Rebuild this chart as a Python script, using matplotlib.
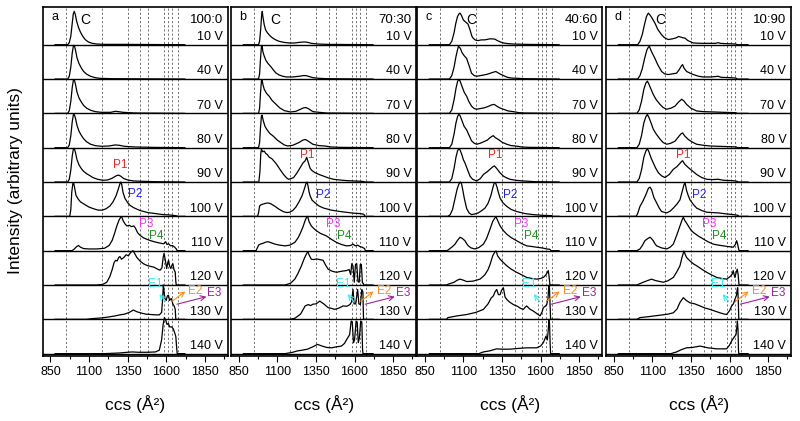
import matplotlib
matplotlib.use("Agg")
import matplotlib.pyplot as plt
from matplotlib.ticker import FixedLocator
import numpy as np

plt.rcParams['font.family'] = ['Liberation Sans', 'DejaVu Sans']

voltages = [10, 40, 70, 80, 90, 100, 110, 120, 130, 140]
ratios = ['100:0', '70:30', '40:60', '10:90']
letters = ['a', 'b', 'c', 'd']
peak_lines = [948, 1185, 1353, 1433, 1481, 1584, 1612, 1638, 1673]

# arrival-time spectra, (ccs, relative intensity)
panel_a = {
    10: [(880,0),(962,0),(972,0.06),(982,0.25),(991,0.62),(998,0.9),(1004,0.97),(1010,0.9),(1020,0.68),(1032,0.5),(1045,0.36),(1060,0.24),(1075,0.15),(1095,0.08),(1120,0.04),(1150,0.02),(1200,0.01),(1300,0.01),(1720,0)],
    40: [(880,0),(962,0),(972,0.08),(982,0.35),(991,0.75),(999,0.98),(1005,0.97),(1012,0.85),(1022,0.62),(1035,0.45),(1050,0.32),(1065,0.22),(1085,0.14),(1110,0.08),(1140,0.04),(1170,0.02),(1250,0.01),(1720,0)],
    70: [(880,0),(962,0),(972,0.08),(982,0.35),(991,0.75),(999,0.98),(1005,0.97),(1012,0.85),(1022,0.62),(1035,0.45),(1050,0.33),(1065,0.23),(1085,0.15),(1110,0.09),(1140,0.05),(1180,0.03),(1240,0.03),(1270,0.06),(1290,0.05),(1320,0.03),(1400,0.01),(1720,0)],
    80: [(880,0),(962,0),(972,0.08),(982,0.35),(991,0.75),(999,0.97),(1005,0.96),(1012,0.86),(1022,0.65),(1035,0.48),(1050,0.36),(1065,0.26),(1085,0.17),(1110,0.1),(1140,0.06),(1180,0.04),(1230,0.05),(1270,0.08),(1295,0.07),(1330,0.04),(1400,0.02),(1500,0.01),(1720,0)],
    90: [(880,0),(962,0),(972,0.08),(982,0.35),(991,0.75),(999,0.98),(1005,0.97),(1012,0.86),(1022,0.65),(1035,0.5),(1050,0.39),(1065,0.31),(1085,0.24),(1100,0.2),(1125,0.13),(1155,0.08),(1190,0.05),(1220,0.06),(1245,0.1),(1265,0.15),(1280,0.19),(1292,0.2),(1305,0.17),(1325,0.1),(1350,0.06),(1390,0.03),(1450,0.02),(1520,0.01),(1720,0)],
    100: [(880,0),(975,0),(982,0.2),(988,0.7),(995,0.95),(1000,0.98),(1006,0.85),(1015,0.62),(1030,0.5),(1045,0.42),(1060,0.38),(1080,0.32),(1100,0.27),(1130,0.22),(1160,0.18),(1185,0.18),(1210,0.22),(1235,0.3),(1255,0.42),(1275,0.6),(1290,0.8),(1300,0.95),(1306,1.0),(1312,0.92),(1320,0.7),(1333,0.52),(1350,0.4),(1365,0.32),(1390,0.25),(1430,0.17),(1480,0.11),(1530,0.08),(1580,0.05),(1620,0.04),(1660,0.02),(1680,0),(1720,0)],
    110: [(880,0),(990,0),(1005,0.05),(1020,0.12),(1032,0.15),(1045,0.1),(1065,0.06),(1100,0.05),(1150,0.05),(1200,0.07),(1230,0.15),(1250,0.3),(1265,0.5),(1280,0.72),(1295,0.9),(1305,0.97),(1312,0.98),(1320,0.88),(1333,0.78),(1345,0.72),(1360,0.74),(1375,0.7),(1390,0.72),(1400,0.66),(1415,0.52),(1430,0.45),(1450,0.38),(1475,0.33),(1500,0.29),(1530,0.25),(1560,0.22),(1583,0.2),(1596,0.26),(1605,0.18),(1615,0.2),(1628,0.14),(1640,0.15),(1655,0.1),(1665,0.05),(1670,0),(1720,0)],
    120: [(880,0),(1150,0),(1190,0.02),(1215,0.08),(1235,0.25),(1250,0.45),(1262,0.65),(1272,0.72),(1282,0.7),(1292,0.8),(1300,0.83),(1310,0.75),(1325,0.8),(1340,0.88),(1355,0.85),(1370,0.95),(1385,1.0),(1395,0.92),(1410,0.8),(1430,0.7),(1452,0.62),(1475,0.57),(1500,0.54),(1520,0.52),(1540,0.47),(1560,0.43),(1572,0.5),(1580,0.8),(1586,0.92),(1593,0.75),(1603,0.48),(1610,0.65),(1615,0.72),(1622,0.55),(1630,0.48),(1637,0.58),(1643,0.62),(1650,0.45),(1658,0.38),(1662,0.1),(1665,0),(1720,0)],
    130: [(880,0),(1080,0),(1120,0.02),(1180,0.04),(1230,0.07),(1270,0.1),(1300,0.13),(1330,0.15),(1360,0.2),(1387,0.27),(1410,0.22),(1440,0.18),(1470,0.15),(1500,0.14),(1530,0.13),(1555,0.13),(1570,0.2),(1577,0.6),(1581,1.0),(1586,0.8),(1592,0.6),(1600,0.55),(1607,0.68),(1614,0.7),(1622,0.55),(1630,0.6),(1635,0.6),(1642,0.45),(1650,0.4),(1658,0.3),(1662,0),(1720,0)],
    140: [(880,0),(1200,0),(1300,0.02),(1350,0.04),(1380,0.05),(1420,0.04),(1480,0.04),(1530,0.05),(1555,0.1),(1570,0.4),(1580,0.85),(1588,1.05),(1595,1.0),(1605,0.85),(1614,0.88),(1622,0.78),(1635,0.78),(1646,0.72),(1655,0.6),(1662,0.5),(1667,0.2),(1671,0),(1720,0)],
}

panel_b = {
    10: [(880,0),(978,0),(985,0.1),(992,0.45),(998,0.85),(1002,0.97),(1007,0.8),(1015,0.58),(1024,0.43),(1035,0.35),(1050,0.27),(1065,0.21),(1085,0.15),(1110,0.1),(1140,0.07),(1175,0.05),(1210,0.05),(1245,0.07),(1275,0.08),(1295,0.07),(1320,0.04),(1360,0.02),(1420,0.01),(1720,0)],
    40: [(880,0),(978,0),(985,0.15),(991,0.6),(997,0.95),(1001,0.98),(1006,0.8),(1014,0.68),(1025,0.55),(1040,0.45),(1058,0.36),(1075,0.26),(1090,0.18),(1110,0.12),(1135,0.08),(1160,0.06),(1200,0.06),(1240,0.08),(1270,0.1),(1285,0.1),(1300,0.08),(1330,0.04),(1370,0.02),(1420,0.01),(1720,0)],
    70: [(880,0),(978,0),(985,0.15),(991,0.6),(997,0.95),(1001,0.98),(1006,0.85),(1015,0.7),(1030,0.58),(1047,0.5),(1065,0.38),(1090,0.27),(1115,0.16),(1145,0.08),(1185,0.04),(1220,0.06),(1250,0.12),(1270,0.16),(1285,0.17),(1300,0.14),(1330,0.05),(1370,0.03),(1420,0.01),(1720,0)],
    80: [(880,0),(978,0),(985,0.15),(991,0.6),(997,0.93),(1001,0.95),(1008,0.8),(1020,0.62),(1032,0.53),(1050,0.42),(1075,0.33),(1100,0.22),(1125,0.14),(1145,0.08),(1167,0.05),(1200,0.07),(1240,0.15),(1265,0.22),(1282,0.24),(1300,0.19),(1330,0.1),(1370,0.06),(1405,0.05),(1450,0.02),(1500,0.01),(1720,0)],
    90: [(880,0),(980,0),(987,0.3),(993,0.85),(997,0.95),(1005,0.88),(1015,0.9),(1025,0.83),(1035,0.8),(1048,0.72),(1064,0.68),(1080,0.6),(1096,0.51),(1115,0.38),(1140,0.22),(1160,0.12),(1172,0.08),(1190,0.1),(1205,0.13),(1225,0.25),(1248,0.42),(1265,0.55),(1280,0.62),(1290,0.72),(1298,0.6),(1305,0.5),(1312,0.4),(1325,0.33),(1345,0.27),(1370,0.22),(1400,0.17),(1430,0.12),(1463,0.08),(1500,0.06),(1550,0.04),(1600,0.03),(1650,0.02),(1670,0),(1720,0)],
    100: [(880,0),(972,0),(978,0.1),(985,0.3),(995,0.34),(1010,0.36),(1025,0.38),(1041,0.39),(1060,0.36),(1085,0.29),(1110,0.21),(1137,0.14),(1160,0.11),(1180,0.12),(1200,0.17),(1220,0.27),(1240,0.42),(1260,0.6),(1275,0.8),(1285,0.95),(1292,1.0),(1298,0.9),(1305,0.72),(1312,0.6),(1325,0.47),(1345,0.39),(1370,0.3),(1400,0.24),(1450,0.18),(1507,0.14),(1560,0.11),(1600,0.09),(1637,0.08),(1660,0.06),(1668,0),(1720,0)],
    110: [(880,0),(962,0),(970,0.08),(980,0.17),(995,0.2),(1010,0.22),(1025,0.25),(1041,0.26),(1060,0.23),(1085,0.19),(1115,0.16),(1150,0.14),(1180,0.16),(1213,0.24),(1235,0.38),(1250,0.52),(1265,0.68),(1280,0.88),(1290,0.98),(1296,1.0),(1305,0.85),(1320,0.72),(1335,0.65),(1353,0.58),(1380,0.5),(1418,0.43),(1450,0.33),(1483,0.24),(1515,0.18),(1547,0.14),(1575,0.15),(1590,0.19),(1605,0.14),(1620,0.16),(1635,0.12),(1650,0.1),(1665,0.06),(1670,0),(1720,0)],
    120: [(880,0),(1150,0),(1185,0.05),(1213,0.17),(1235,0.35),(1256,0.56),(1275,0.78),(1290,0.92),(1298,0.97),(1305,0.88),(1320,0.75),(1335,0.74),(1353,0.76),(1375,0.74),(1396,0.72),(1410,0.6),(1429,0.46),(1455,0.4),(1483,0.37),(1515,0.4),(1547,0.42),(1565,0.45),(1575,0.3),(1582,0.62),(1590,0.55),(1598,0.08),(1606,0.6),(1614,0.62),(1622,0.1),(1630,0.08),(1637,0.6),(1644,0.6),(1651,0.06),(1656,0.05),(1660,0),(1720,0)],
    130: [(880,0),(1180,0),(1213,0.03),(1250,0.15),(1280,0.39),(1300,0.43),(1315,0.4),(1330,0.44),(1350,0.45),(1375,0.53),(1400,0.45),(1429,0.34),(1450,0.32),(1472,0.29),(1500,0.33),(1526,0.39),(1550,0.38),(1570,0.43),(1580,0.5),(1590,0.87),(1597,0.45),(1607,0.45),(1620,0.87),(1628,0.45),(1638,0.43),(1647,0.87),(1654,0.8),(1658,0),(1720,0)],
    140: [(880,0),(1150,0),(1200,0.04),(1230,0.08),(1260,0.1),(1295,0.13),(1330,0.2),(1360,0.27),(1390,0.22),(1420,0.18),(1450,0.17),(1485,0.2),(1515,0.22),(1535,0.3),(1550,0.42),(1568,0.55),(1578,0.95),(1585,0.92),(1593,0.32),(1600,0.4),(1610,0.95),(1617,0.92),(1624,0.32),(1631,0.45),(1640,0.95),(1647,0.92),(1652,0.1),(1655,0),(1720,0)],
}

panel_c = {
    10: [(880,0),(1010,0),(1025,0.1),(1040,0.35),(1050,0.6),(1062,0.82),(1072,0.9),(1078,0.92),(1088,0.85),(1100,0.72),(1115,0.66),(1130,0.6),(1142,0.45),(1155,0.25),(1165,0.18),(1180,0.13),(1197,0.12),(1215,0.14),(1235,0.14),(1251,0.15),(1270,0.17),(1290,0.17),(1305,0.16),(1320,0.12),(1340,0.08),(1360,0.05),(1390,0.03),(1425,0.02),(1500,0.01),(1720,0)],
    40: [(880,0),(1010,0),(1025,0.1),(1040,0.35),(1052,0.65),(1062,0.85),(1068,0.95),(1074,0.93),(1082,0.88),(1090,0.78),(1105,0.68),(1121,0.6),(1135,0.42),(1153,0.17),(1170,0.1),(1186,0.08),(1210,0.1),(1235,0.12),(1255,0.14),(1275,0.17),(1295,0.2),(1310,0.22),(1325,0.18),(1345,0.13),(1365,0.09),(1385,0.05),(1410,0.03),(1450,0.02),(1500,0.01),(1720,0)],
    70: [(880,0),(1010,0),(1025,0.1),(1040,0.4),(1052,0.72),(1062,0.92),(1070,0.99),(1078,0.95),(1090,0.8),(1105,0.62),(1121,0.5),(1135,0.35),(1153,0.21),(1170,0.14),(1186,0.12),(1210,0.14),(1235,0.16),(1260,0.2),(1285,0.25),(1300,0.26),(1320,0.2),(1340,0.15),(1359,0.12),(1390,0.07),(1424,0.05),(1460,0.02),(1500,0.01),(1720,0)],
    80: [(880,0),(1010,0),(1025,0.1),(1040,0.4),(1052,0.72),(1062,0.9),(1070,0.97),(1078,0.94),(1090,0.8),(1105,0.62),(1121,0.52),(1135,0.38),(1153,0.2),(1170,0.13),(1186,0.1),(1210,0.13),(1235,0.18),(1255,0.22),(1270,0.28),(1285,0.33),(1294,0.35),(1305,0.3),(1315,0.27),(1330,0.23),(1350,0.16),(1381,0.1),(1410,0.06),(1435,0.05),(1480,0.02),(1520,0.01),(1720,0)],
    90: [(880,0),(1010,0),(1025,0.1),(1040,0.4),(1052,0.72),(1062,0.9),(1070,0.97),(1078,0.94),(1090,0.8),(1100,0.65),(1110,0.56),(1125,0.38),(1143,0.17),(1160,0.08),(1186,0.03),(1210,0.1),(1230,0.22),(1255,0.3),(1275,0.38),(1290,0.44),(1301,0.47),(1315,0.4),(1337,0.27),(1360,0.17),(1380,0.12),(1402,0.08),(1440,0.05),(1489,0.03),(1530,0.02),(1560,0.01),(1720,0)],
    100: [(880,0),(1000,0),(1015,0.05),(1030,0.2),(1045,0.5),(1060,0.8),(1072,0.95),(1080,1.0),(1088,0.95),(1095,0.8),(1105,0.55),(1115,0.35),(1122,0.22),(1137,0.1),(1153,0.05),(1175,0.07),(1197,0.1),(1220,0.17),(1240,0.24),(1260,0.38),(1278,0.6),(1292,0.85),(1300,0.97),(1308,0.98),(1318,0.85),(1328,0.68),(1338,0.53),(1355,0.4),(1381,0.29),(1410,0.2),(1445,0.14),(1500,0.08),(1553,0.05),(1610,0.03),(1672,0.02),(1680,0),(1720,0)],
    110: [(880,0),(995,0),(1010,0.05),(1030,0.12),(1046,0.19),(1062,0.3),(1078,0.39),(1092,0.36),(1110,0.29),(1122,0.2),(1132,0.14),(1150,0.08),(1175,0.05),(1200,0.09),(1230,0.19),(1250,0.35),(1273,0.63),(1290,0.85),(1305,0.96),(1312,0.98),(1322,0.88),(1338,0.72),(1360,0.58),(1381,0.48),(1410,0.38),(1445,0.29),(1480,0.2),(1510,0.14),(1545,0.12),(1575,0.1),(1610,0.08),(1640,0.05),(1660,0.04),(1668,0),(1720,0)],
    120: [(880,0),(990,0),(1000,0.02),(1040,0.08),(1060,0.14),(1078,0.17),(1100,0.14),(1122,0.1),(1160,0.11),(1208,0.17),(1240,0.3),(1260,0.45),(1273,0.6),(1290,0.85),(1305,0.97),(1312,0.99),(1322,0.85),(1338,0.75),(1360,0.65),(1381,0.56),(1410,0.46),(1445,0.37),(1480,0.29),(1510,0.22),(1545,0.19),(1575,0.17),(1600,0.19),(1618,0.22),(1632,0.28),(1642,0.35),(1650,0.42),(1655,0.25),(1660,0.03),(1663,0),(1720,0)],
    130: [(880,0),(990,0),(1000,0.05),(1060,0.1),(1122,0.14),(1180,0.2),(1230,0.29),(1260,0.45),(1280,0.62),(1294,0.68),(1305,0.8),(1316,0.87),(1327,0.72),(1338,0.72),(1348,0.85),(1359,0.92),(1370,0.65),(1381,0.58),(1400,0.5),(1424,0.43),(1450,0.38),(1470,0.32),(1489,0.29),(1500,0.35),(1510,0.39),(1530,0.3),(1553,0.24),(1575,0.17),(1597,0.1),(1610,0.22),(1618,0.34),(1630,0.38),(1640,0.43),(1648,0.6),(1653,0.95),(1657,1.0),(1661,0.5),(1665,0),(1720,0)],
    140: [(880,0),(1200,0),(1230,0.05),(1270,0.08),(1300,0.12),(1316,0.14),(1350,0.13),(1402,0.13),(1450,0.15),(1510,0.17),(1575,0.17),(1600,0.22),(1618,0.32),(1630,0.45),(1635,0.51),(1644,0.4),(1650,0.7),(1655,1.0),(1658,0.9),(1662,0.3),(1665,0),(1720,0)],
}

panel_d = {
    10: [(880,0),(1005,0),(1020,0.1),(1035,0.3),(1050,0.6),(1062,0.82),(1074,0.92),(1082,0.88),(1095,0.8),(1105,0.72),(1117,0.63),(1135,0.45),(1160,0.29),(1180,0.2),(1203,0.15),(1230,0.17),(1255,0.2),(1270,0.24),(1285,0.22),(1300,0.2),(1312,0.19),(1330,0.12),(1366,0.05),(1420,0.04),(1480,0.04),(1510,0.04),(1527,0.06),(1540,0.04),(1580,0.03),(1640,0.02),(1650,0),(1720,0)],
    40: [(880,0),(1005,0),(1020,0.1),(1035,0.3),(1050,0.6),(1065,0.85),(1075,0.93),(1081,0.95),(1090,0.85),(1100,0.75),(1117,0.6),(1135,0.42),(1160,0.22),(1180,0.15),(1203,0.13),(1230,0.15),(1257,0.17),(1275,0.28),(1288,0.38),(1296,0.42),(1305,0.32),(1322,0.22),(1345,0.17),(1366,0.13),(1400,0.08),(1430,0.06),(1480,0.06),(1527,0.08),(1545,0.05),(1600,0.04),(1640,0.03),(1650,0),(1720,0)],
    70: [(880,0),(1000,0),(1015,0.1),(1030,0.35),(1045,0.7),(1058,0.88),(1068,0.94),(1078,0.85),(1092,0.7),(1106,0.55),(1125,0.4),(1150,0.26),(1170,0.17),(1193,0.12),(1220,0.15),(1247,0.21),(1270,0.33),(1290,0.41),(1305,0.36),(1322,0.26),(1350,0.15),(1387,0.07),(1430,0.05),(1500,0.04),(1560,0.03),(1640,0.02),(1650,0),(1720,0)],
    80: [(880,0),(1000,0),(1015,0.1),(1030,0.35),(1045,0.72),(1058,0.9),(1068,0.97),(1078,0.88),(1092,0.72),(1106,0.54),(1125,0.4),(1150,0.25),(1170,0.15),(1193,0.1),(1220,0.13),(1247,0.19),(1270,0.32),(1285,0.4),(1296,0.43),(1310,0.34),(1333,0.24),(1360,0.16),(1387,0.1),(1430,0.07),(1473,0.05),(1530,0.04),(1600,0.03),(1645,0.02),(1650,0),(1720,0)],
    90: [(880,0),(1000,0),(1015,0.1),(1030,0.35),(1045,0.72),(1058,0.9),(1068,0.97),(1078,0.88),(1092,0.7),(1106,0.56),(1120,0.42),(1139,0.27),(1160,0.18),(1182,0.13),(1210,0.22),(1236,0.37),(1260,0.45),(1280,0.55),(1290,0.6),(1296,0.62),(1310,0.52),(1333,0.42),(1360,0.32),(1387,0.22),(1420,0.13),(1452,0.08),(1490,0.07),(1527,0.08),(1560,0.05),(1620,0.04),(1650,0.02),(1655,0),(1720,0)],
    100: [(880,0),(995,0),(1005,0.08),(1020,0.29),(1040,0.45),(1060,0.65),(1075,0.82),(1085,0.85),(1095,0.78),(1110,0.55),(1128,0.39),(1145,0.24),(1160,0.14),(1193,0.1),(1215,0.15),(1236,0.24),(1260,0.36),(1279,0.48),(1295,0.75),(1305,0.92),(1312,0.98),(1322,0.75),(1333,0.6),(1344,0.48),(1365,0.35),(1387,0.24),(1420,0.17),(1452,0.12),(1490,0.11),(1527,0.1),(1580,0.07),(1624,0.05),(1655,0.03),(1660,0),(1720,0)],
    110: [(880,0),(1000,0),(1020,0.05),(1035,0.15),(1052,0.29),(1070,0.35),(1085,0.39),(1095,0.35),(1106,0.29),(1117,0.2),(1128,0.14),(1160,0.08),(1193,0.05),(1215,0.1),(1236,0.19),(1258,0.45),(1279,0.72),(1293,0.9),(1301,0.97),(1310,0.88),(1322,0.8),(1333,0.72),(1350,0.6),(1366,0.53),(1400,0.42),(1430,0.34),(1460,0.26),(1495,0.19),(1530,0.16),(1560,0.14),(1590,0.12),(1624,0.1),(1638,0.18),(1646,0.29),(1652,0.2),(1660,0.03),(1663,0),(1720,0)],
    120: [(880,0),(1000,0),(1020,0.04),(1041,0.08),(1070,0.13),(1095,0.17),(1120,0.13),(1150,0.1),(1171,0.08),(1200,0.12),(1236,0.22),(1258,0.38),(1279,0.56),(1292,0.8),(1305,0.99),(1312,0.9),(1322,0.8),(1344,0.7),(1365,0.62),(1387,0.56),(1420,0.46),(1452,0.37),(1485,0.29),(1517,0.22),(1550,0.19),(1581,0.17),(1605,0.25),(1618,0.32),(1624,0.42),(1630,0.3),(1635,0.22),(1642,0.35),(1650,0.46),(1656,0.3),(1661,0.02),(1663,0),(1720,0)],
    130: [(880,0),(1000,0),(1020,0.05),(1080,0.08),(1150,0.12),(1200,0.15),(1236,0.19),(1260,0.3),(1280,0.5),(1301,0.63),(1320,0.55),(1344,0.48),(1375,0.45),(1409,0.39),(1440,0.33),(1473,0.29),(1505,0.24),(1538,0.19),(1560,0.16),(1581,0.14),(1600,0.25),(1614,0.39),(1625,0.45),(1635,0.58),(1645,0.7),(1650,0.88),(1653,0.92),(1657,0.5),(1660,0),(1720,0)],
    140: [(880,0),(1220,0),(1257,0.05),(1290,0.12),(1322,0.17),(1360,0.18),(1409,0.22),(1460,0.17),(1517,0.14),(1581,0.14),(1600,0.25),(1614,0.37),(1625,0.45),(1635,0.51),(1642,0.55),(1648,0.8),(1651,0.95),(1655,0.7),(1658,0.1),(1660,0),(1720,0)],
}

panels = [panel_a, panel_b, panel_c, panel_d]

# label positions (ccs, stacked y) per panel
c_x = [1074, 1085, 1149, 1150]
p_pos = [
    [(1300, 5.49), (1402, 4.65), (1469, 3.78), (1538, 3.44)],
    [(1295, 5.78), (1396, 4.62), (1461, 3.78), (1532, 3.44)],
    [(1305, 5.78), (1406, 4.62), (1475, 3.78), (1540, 3.44)],
    [(1301, 5.78), (1405, 4.62), (1470, 3.78), (1535, 3.44)],
]
p_names = ['P1', 'P2', 'P3', 'P4']
p_colors = ['#ff2020', '#2020ff', '#ff30ff', '#1f8f1f']
e_colors = ['#30f0f0', '#ff8c1a', '#a020a0']

fig = plt.figure(figsize=(8, 4.21), dpi=100)
lefts = [0.0534, 0.2888, 0.5213, 0.7575]
width = 0.2316
bottom = 0.1551
height = 0.8276

n = len(voltages)
for k, data in enumerate(panels):
    ax = fig.add_axes([lefts[k], bottom, width, height])
    ax.set_xlim(800, 2000)
    ax.set_ylim(-0.06, n + 0.09)
    for x in peak_lines:
        ax.axvline(x, color='0.35', lw=0.6, ls=(0, (2.5, 2.5)), zorder=0)
    for i, v in enumerate(voltages):
        off = n - 1 - i
        ax.axhline(off, color='k', lw=1.0, zorder=2)
        xs = [p[0] for p in data[v]]
        ys = np.array([p[1] for p in data[v]]) + off
        ax.plot(xs, ys, color='k', lw=0.9, zorder=3)
        ax.text(1968, off + 0.05, f'{v} V', ha='right', va='bottom', fontsize=9)

    ax.text(854, 9.8, letters[k], ha='left', va='center', fontsize=9)
    ax.text(1968, 9.72, ratios[k], ha='right', va='center', fontsize=9.5)
    ax.text(c_x[k], 9.72, 'C', ha='center', va='center', fontsize=10)
    for (px, py), name, col in zip(p_pos[k], p_names, p_colors):
        ax.text(px, py, name, ha='center', va='center', fontsize=8.5, color=col)

    # E1, E2, E3 arrows in the 130 V row
    ax.text(1527, 2.02, 'E1', ha='center', va='center', fontsize=8.5, color=e_colors[0])
    ax.annotate('', xy=(1545, 1.8), xytext=(1605, 1.45),
                arrowprops=dict(arrowstyle='->', color=e_colors[0], lw=0.8, mutation_scale=9))
    ax.text(1790, 1.82, 'E2', ha='center', va='center', fontsize=8.5, color=e_colors[1])
    ax.annotate('', xy=(1738, 1.86), xytext=(1625, 1.48),
                arrowprops=dict(arrowstyle='->', color=e_colors[1], lw=0.8, mutation_scale=9))
    ax.text(1912, 1.76, 'E3', ha='center', va='center', fontsize=8.5, color=e_colors[2])
    ax.annotate('', xy=(1878, 1.68), xytext=(1652, 1.42),
                arrowprops=dict(arrowstyle='->', color=e_colors[2], lw=0.8, mutation_scale=9))

    ax.xaxis.set_major_locator(FixedLocator([850, 1100, 1350, 1600, 1850]))
    ax.xaxis.set_minor_locator(FixedLocator([975, 1225, 1475, 1725, 1975]))
    ax.tick_params(axis='x', which='major', direction='out', length=4, width=0.8, labelsize=9, pad=3.5)
    ax.tick_params(axis='x', which='minor', direction='out', length=2.5, width=0.8)
    ax.set_yticks([])
    for s in ax.spines.values():
        s.set_linewidth(1.2)
    fig.text(lefts[k] + width / 2, 0.04, 'ccs (Å²)', ha='center', va='center', fontsize=12.5)

fig.text(0.019, 0.57, 'Intensity (arbitrary units)', rotation=90,
         ha='center', va='center', fontsize=12.5)

fig.savefig('out.png', dpi=100)
